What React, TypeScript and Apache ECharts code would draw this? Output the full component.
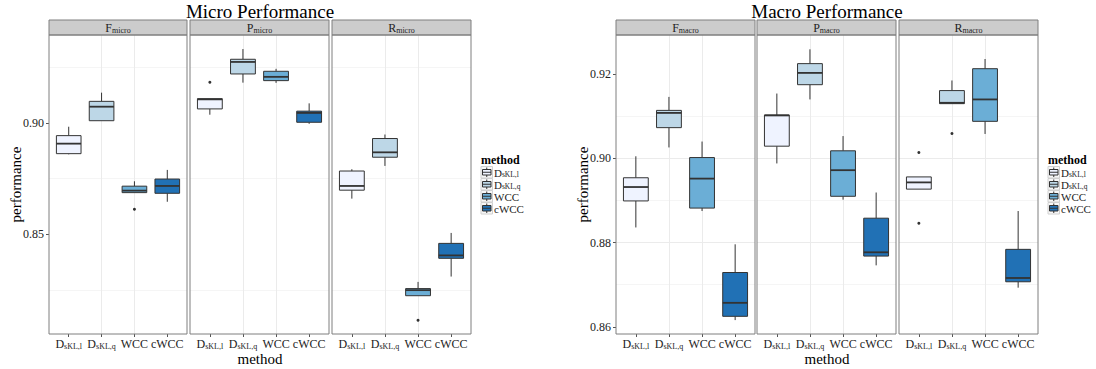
import React, { useEffect, useRef } from 'react';
import * as echarts from 'echarts';

// ---------- data ----------
const methodMain = ['D', 'D', 'WCC', 'cWCC'];
const methodSub = ['sKL,l', 'sKL,q', '', ''];
const methodColors = ['#EFF3FF', '#BDD7E7', '#6BAED6', '#2171B5'];

const microYTicks = [0.85, 0.9];
const macroYTicks = [0.86, 0.88, 0.9, 0.92];
const microYRange = [0.8052, 0.9395];
const macroYRange = [0.8583, 0.9293];

// [lower whisker, Q1, median, Q3, upper whisker] per method
const fMicroStats = [
  [0.8859, 0.8862, 0.8907, 0.8943, 0.8983],
  [0.901, 0.901, 0.9073, 0.9097, 0.9136],
  [0.8687, 0.8687, 0.8696, 0.8716, 0.8738],
  [0.8646, 0.8684, 0.8717, 0.8748, 0.8789],
];
const fMicroOutliers = [[2, 0.8612]]; // [method index, value]

const pMicroStats = [
  [0.9037, 0.9063, 0.9106, 0.9109, 0.9109],
  [0.9181, 0.922, 0.9274, 0.9286, 0.9332],
  [0.918, 0.919, 0.9207, 0.9232, 0.9243],
  [0.8996, 0.9003, 0.9045, 0.9053, 0.9088],
];
const pMicroOutliers = [[0, 0.9183]];

const rMicroStats = [
  [0.866, 0.8698, 0.8717, 0.8784, 0.8792],
  [0.8807, 0.8846, 0.8868, 0.893, 0.8948],
  [0.8224, 0.8224, 0.8249, 0.8256, 0.8286],
  [0.831, 0.8392, 0.8405, 0.8459, 0.8506],
];
const rMicroOutliers = [[2, 0.8114]];

const fMacroStats = [
  [0.8836, 0.8899, 0.8932, 0.8954, 0.9005],
  [0.9026, 0.9073, 0.9108, 0.9114, 0.9146],
  [0.8875, 0.8882, 0.8952, 0.9002, 0.904],
  [0.8616, 0.8625, 0.8657, 0.8729, 0.8796],
];
const fMacroOutliers: number[][] = [];

const pMacroStats = [
  [0.8988, 0.9029, 0.9102, 0.9103, 0.9154],
  [0.914, 0.9175, 0.9203, 0.9225, 0.9259],
  [0.8902, 0.891, 0.8972, 0.9018, 0.9053],
  [0.8746, 0.8768, 0.8777, 0.8858, 0.8919],
];
const pMacroOutliers: number[][] = [];

const rMacroStats = [
  [0.8927, 0.8927, 0.8943, 0.8956, 0.8956],
  [0.913, 0.913, 0.9132, 0.9161, 0.9185],
  [0.9058, 0.9088, 0.914, 0.9213, 0.9236],
  [0.8693, 0.8707, 0.8716, 0.8784, 0.8875],
];
const rMacroOutliers = [[0, 0.9014], [0, 0.8846], [1, 0.9059]];

const microPanels = [
  { main: 'F', sub: 'micro', stats: fMicroStats, outliers: fMicroOutliers },
  { main: 'P', sub: 'micro', stats: pMicroStats, outliers: pMicroOutliers },
  { main: 'R', sub: 'micro', stats: rMicroStats, outliers: rMicroOutliers },
];
const macroPanels = [
  { main: 'F', sub: 'macro', stats: fMacroStats, outliers: fMacroOutliers },
  { main: 'P', sub: 'macro', stats: pMacroStats, outliers: pMacroOutliers },
  { main: 'R', sub: 'macro', stats: rMacroStats, outliers: rMacroOutliers },
];

// ---------- layout / style ----------
const FONT = '"Liberation Serif", "DejaVu Serif", serif';
const PANEL_TOP = 35;
const PANEL_H = 299;
const STRIP_TOP = 20;
const STRIP_H = 15;
const BOX_W = 0.75;
const TEXT_COL = '#222';
const BORDER_COL = '#7f7f7f';

const charts = [
  {
    title: 'Micro Performance', panels: microPanels, yRange: microYRange, yTicks: microYTicks,
    splitNumber: 3, lefts: [49, 190, 332], widths: [138, 139, 139], legendX: 481,
  },
  {
    title: 'Macro Performance', panels: macroPanels, yRange: macroYRange, yTicks: macroYTicks,
    splitNumber: 4, lefts: [616, 757, 899], widths: [139, 139, 139], legendX: 1048,
  },
];

const richSub = {
  m: { fontSize: 12, fontFamily: FONT, lineHeight: 13, verticalAlign: 'top', color: TEXT_COL, fill: TEXT_COL },
  s: { fontSize: 8, fontFamily: FONT, lineHeight: 8, padding: [4, 0, 0, 0], verticalAlign: 'top', color: TEXT_COL, fill: TEXT_COL },
};
const richCompact = {
  m: { fontSize: 12, fontFamily: FONT, lineHeight: 11, verticalAlign: 'top', color: TEXT_COL, fill: TEXT_COL },
  s: { fontSize: 8, fontFamily: FONT, lineHeight: 7, padding: [4, 0, 0, 0], verticalAlign: 'top', color: TEXT_COL, fill: TEXT_COL },
};
const richLegend = {
  m: { fontSize: 11, fontFamily: FONT, lineHeight: 10, verticalAlign: 'top', color: TEXT_COL, fill: TEXT_COL },
  s: { fontSize: 7.5, fontFamily: FONT, lineHeight: 6.5, padding: [3.5, 0, 0, 0], verticalAlign: 'top', color: TEXT_COL, fill: TEXT_COL },
};

function methodRich(i: number) {
  return methodSub[i] ? `{m|${methodMain[i]}}{s|${methodSub[i]}}` : `{m|${methodMain[i]}}`;
}

function renderBox(params: any, api: any) {
  const x = api.value(0);
  const lo = api.coord([x, api.value(1)]);
  const q1 = api.coord([x, api.value(2)]);
  const md = api.coord([x, api.value(3)]);
  const q3 = api.coord([x, api.value(4)]);
  const hi = api.coord([x, api.value(5)]);
  const w = api.size([BOX_W, 0])[0];
  const ci = api.value(6);
  const cx = lo[0];
  const line = { stroke: '#333', lineWidth: 1 };
  return {
    type: 'group',
    children: [
      { type: 'line', shape: { x1: cx, y1: lo[1], x2: cx, y2: q1[1] }, style: line },
      { type: 'line', shape: { x1: cx, y1: q3[1], x2: cx, y2: hi[1] }, style: line },
      {
        type: 'rect',
        shape: { x: cx - w / 2, y: q3[1], width: w, height: q1[1] - q3[1] },
        style: { fill: methodColors[ci], stroke: '#333', lineWidth: 1 },
      },
      { type: 'line', shape: { x1: cx - w / 2, y1: md[1], x2: cx + w / 2, y2: md[1] }, style: { stroke: '#333', lineWidth: 1.8 } },
    ],
  };
}

function buildOption() {
  const grid: any[] = [];
  const xAxis: any[] = [];
  const yAxis: any[] = [];
  const series: any[] = [];
  const graphic: any[] = [];
  let gi = 0;

  charts.forEach((ch) => {
    const totalLeft = ch.lefts[0];
    const totalRight = ch.lefts[2] + ch.widths[2];
    const cx = (totalLeft + totalRight) / 2;

    graphic.push({
      type: 'text', x: cx, y: 11, z: 100,
      style: { text: ch.title, font: `19px ${FONT}`, fill: '#000', align: 'center', verticalAlign: 'middle', textAlign: 'center', textVerticalAlign: 'middle' },
    });
    graphic.push({
      type: 'text', x: cx, y: 359, z: 100,
      style: { text: 'method', font: `15px ${FONT}`, fill: '#000', align: 'center', verticalAlign: 'middle', textAlign: 'center', textVerticalAlign: 'middle' },
    });
    graphic.push({
      type: 'text', x: totalLeft - 33, y: PANEL_TOP + PANEL_H / 2, rotation: Math.PI / 2, z: 100,
      style: { text: 'performance', font: `15px ${FONT}`, fill: '#000', align: 'center', verticalAlign: 'middle', textAlign: 'center', textVerticalAlign: 'middle' },
    });

    ch.panels.forEach((p, k) => {
      const left = ch.lefts[k];
      const width = ch.widths[k];
      grid.push({ left, top: PANEL_TOP, width, height: PANEL_H, show: false });
      xAxis.push({
        type: 'value', gridIndex: gi, min: 0.4, max: 4.6, splitNumber: 4,
        axisLine: { show: false },
        axisTick: { show: true, length: 3, lineStyle: { color: '#555' }, customValues: [1, 2, 3, 4] },
        axisLabel: {
          customValues: [1, 2, 3, 4], margin: 4, color: TEXT_COL, fontFamily: FONT, fontSize: 12,
          formatter: (v: number) => methodRich(Math.round(v) - 1),
          rich: richSub,
        },
        splitLine: { show: true, showMinLine: false, showMaxLine: false, lineStyle: { color: '#ebebeb', width: 1 } },
      });
      yAxis.push({
        type: 'value', gridIndex: gi, min: ch.yRange[0], max: ch.yRange[1], splitNumber: ch.splitNumber,
        axisLine: { show: false },
        axisTick: { show: k === 0, length: 3, lineStyle: { color: '#555' }, customValues: ch.yTicks },
        axisLabel: {
          show: k === 0, customValues: ch.yTicks, margin: 5, color: TEXT_COL, fontFamily: FONT, fontSize: 12,
          formatter: (v: number) => v.toFixed(2),
        },
        splitLine: { show: true, showMinLine: false, showMaxLine: false, lineStyle: { color: '#ebebeb', width: 1 } },
        minorTick: { show: false, splitNumber: 2 },
        minorSplitLine: { show: true, lineStyle: { color: '#f5f5f5', width: 1 } },
      });
      series.push({
        type: 'custom', xAxisIndex: gi, yAxisIndex: gi, renderItem: renderBox, z: 2,
        encode: { x: 0, y: [1, 2, 3, 4, 5] },
        data: p.stats.map((s, i) => [i + 1, ...s, i]),
      });
      series.push({
        type: 'scatter', xAxisIndex: gi, yAxisIndex: gi, z: 3, symbol: 'circle', symbolSize: 3,
        itemStyle: { color: '#000' },
        data: p.outliers.map(([i, v]) => [i + 1, v]),
      });

      graphic.push({
        type: 'rect', z: 100,
        shape: { x: left, y: STRIP_TOP, width, height: STRIP_H },
        style: { fill: '#cccccc', stroke: BORDER_COL, lineWidth: 1 },
      });
      graphic.push({
        type: 'text', x: left + width / 2, y: STRIP_TOP + STRIP_H / 2, z: 101,
        style: {
          text: `{m|${p.main}}{s|${p.sub}}`, rich: richCompact, fill: TEXT_COL,
          align: 'center', verticalAlign: 'middle', textAlign: 'center', textVerticalAlign: 'middle',
        },
      });
      graphic.push({
        type: 'rect', z: 100, silent: true,
        shape: { x: left, y: PANEL_TOP, width, height: PANEL_H },
        style: { fill: 'none', stroke: BORDER_COL, lineWidth: 1 },
      });
      gi++;
    });

    const lx = ch.legendX;
    graphic.push({
      type: 'text', x: lx, y: 159.5, z: 100,
      style: { text: 'method', font: `bold 12px ${FONT}`, fill: '#000', align: 'left', verticalAlign: 'middle', textAlign: 'left', textVerticalAlign: 'middle' },
    });
    const ks = 11.5;
    const rowGap = 12;
    methodMain.forEach((_, i) => {
      const y0 = 166.5 + i * rowGap;
      graphic.push({ type: 'rect', z: 100, shape: { x: lx, y: y0, width: ks, height: ks }, style: { fill: '#f7f7f7', stroke: '#d0d0d0', lineWidth: 1 } });
      graphic.push({ type: 'line', z: 101, shape: { x1: lx + ks / 2, y1: y0 + 1, x2: lx + ks / 2, y2: y0 + ks - 1 }, style: { stroke: '#333', lineWidth: 1 } });
      graphic.push({ type: 'rect', z: 102, shape: { x: lx + 1.5, y: y0 + 3, width: ks - 3, height: ks - 6 }, style: { fill: methodColors[i], stroke: '#333', lineWidth: 1 } });
      graphic.push({ type: 'line', z: 103, shape: { x1: lx + 1.5, y1: y0 + ks / 2, x2: lx + ks - 1.5, y2: y0 + ks / 2 }, style: { stroke: '#333', lineWidth: 1 } });
      graphic.push({
        type: 'text', x: lx + ks + 1.5, y: y0 + ks / 2, z: 100,
        style: { text: methodRich(i), rich: richLegend, fill: TEXT_COL, align: 'left', verticalAlign: 'middle', textAlign: 'left', textVerticalAlign: 'middle' },
      });
    });
  });

  return {
    animation: false,
    backgroundColor: '#ffffff',
    textStyle: { fontFamily: FONT },
    grid, xAxis, yAxis, series, graphic,
  };
}

export default function App() {
  const ref = useRef<HTMLDivElement>(null);
  useEffect(() => {
    if (!ref.current) return;
    const chart = echarts.init(ref.current, undefined, { renderer: 'svg' });
    chart.setOption(buildOption() as any);
    return () => chart.dispose();
  }, []);
  return <div ref={ref} style={{ position: 'absolute', left: 0, top: 0, width: 1096, height: 369 }} />;
}
